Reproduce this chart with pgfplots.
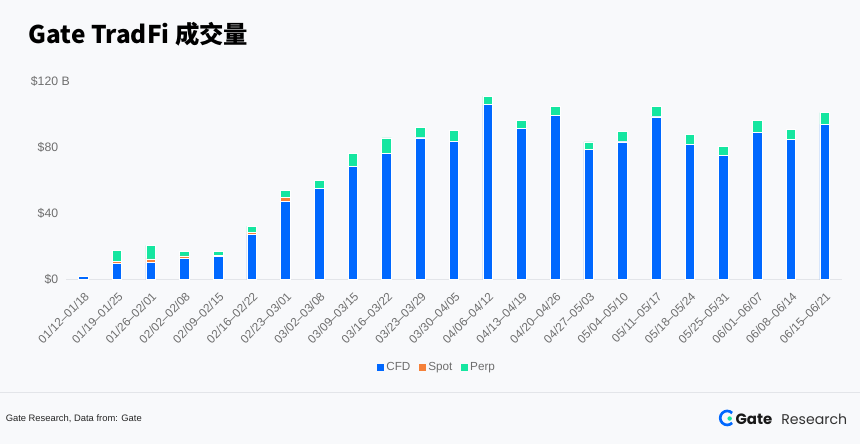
\documentclass[border=0pt]{standalone}
\usepackage{pgfplots}
\pgfplotsset{compat=1.18}
\usepackage{fontspec}
\setmainfont{Liberation Sans}
\newfontfamily\cjk{Noto Sans CJK SC}
\newfontfamily\pop{Poppins}
\definecolor{bgc}{HTML}{F8F9FB}
\definecolor{cfd}{HTML}{0068FF}
\definecolor{spot}{HTML}{F5813A}
\definecolor{perp}{HTML}{15E6A0}
\definecolor{lab}{HTML}{6E6E6E}
\definecolor{axl}{HTML}{E3E5E9}
\pgfplotstableread{
idx cfd spot perp
0 2.2 0.0 0.0
1 9.6 1.6 6.5
2 10.2 2.3 8.2
3 12.7 1.6 3.0
4 13.9 0.8 2.2
5 27.3 1.4 3.7
6 47.4 2.1 4.4
7 54.9 0.3 4.9
8 68.3 0.2 7.5
9 76.0 0.2 9.4
10 85.6 0.2 5.9
11 83.6 0.1 6.4
12 105.7 0.2 4.9
13 91.1 0.2 4.6
14 99.3 0.1 5.1
15 78.4 0.2 4.6
16 83.2 0.2 6.1
17 98.3 0.1 6.1
18 81.8 0.1 5.7
19 75.0 0.1 5.3
20 88.8 0.1 7.0
21 84.6 0.1 6.0
22 93.7 0.1 7.1
}\datatable
\begin{document}
\begin{tikzpicture}[x=0.75pt,y=0.75pt]
\fill[bgc] (0,0) rectangle (860,445);
\node[anchor=west,inner sep=0pt,font=\fontsize{18.3}{20}\selectfont\bfseries\cjk,black] at (28,411) {Gate TradFi 成交量};
\draw[axl,line width=0.75pt] (0,52) -- (860,52);
\node[anchor=west,inner sep=0pt,font=\fontsize{7.05}{9}\selectfont,black!85] at (5,25.5) {Gate Research, Data from: Gate};
\node[anchor=east,inner sep=0pt,font=\fontsize{10.6}{12}\selectfont\pop,black!80] at (848,25.5) {Research};
\node[anchor=east,inner sep=0pt,font=\fontsize{11.2}{12}\selectfont\bfseries\pop,black!90] at (773,25.5) {Gate};
\draw[cfd,line width=2pt] (732.5,31.5) arc (45:315:7);
\fill[perp] (730,26) circle (2.2);
\begin{axis}[
  at={(66pt*0.75,165pt*0.75)},anchor=south west,
  scale only axis,width=582pt,height=149.25pt,
  ybar stacked,bar width=7.2pt,
  xmin=-0.5,xmax=22.5,ymin=0,ymax=120,
  clip=false,
  axis y line*=left,axis x line*=bottom,
  y axis line style={draw=none},
  x axis line style={axl,line width=1pt,-},
  tick style={draw=none},
  ytick={0,40,80,120},
  yticklabels={\$0,\$40,\$80,\$120\rlap{ B}},
  yticklabel style={font=\fontsize{9.2}{11}\selectfont,text=lab,inner sep=0pt,anchor=east,xshift=-6pt},
  xtick={0,...,22},
  xticklabels={01/12--01/18,01/19--01/25,01/26--02/01,02/02--02/08,02/09--02/15,02/16--02/22,02/23--03/01,03/02--03/08,03/09--03/15,03/16--03/22,03/23--03/29,03/30--04/05,04/06--04/12,04/13--04/19,04/20--04/26,04/27--05/03,05/04--05/10,05/11--05/17,05/18--05/24,05/25--05/31,06/01--06/07,06/08--06/14,06/15--06/21},
  xticklabel style={font=\fontsize{8.9}{11}\selectfont,text=lab,rotate=45,anchor=north east,inner sep=0pt,yshift=-6.2pt,xshift=-5.8pt},
  legend style={at={(0.4787,-0.442)},anchor=center,draw=none,fill=none,font=\fontsize{8.8}{10}\selectfont\color{lab},
    legend columns=3,/tikz/every even column/.style={column sep=4.6pt},inner sep=0pt},
  legend image code/.code={\fill[#1,draw=none] (0pt,-2.4pt) rectangle (4.8pt,2.4pt);},
  legend cell align=left,
]
\addplot[fill=cfd,draw=white,line width=0.5pt] table[x=idx,y=cfd]{\datatable};
\addplot[fill=spot,draw=white,line width=0.5pt] table[x=idx,y=spot]{\datatable};
\addplot[fill=perp,draw=white,line width=0.5pt] table[x=idx,y=perp]{\datatable};
\legend{CFD,Spot,Perp}
\end{axis}
\end{tikzpicture}
\end{document}
